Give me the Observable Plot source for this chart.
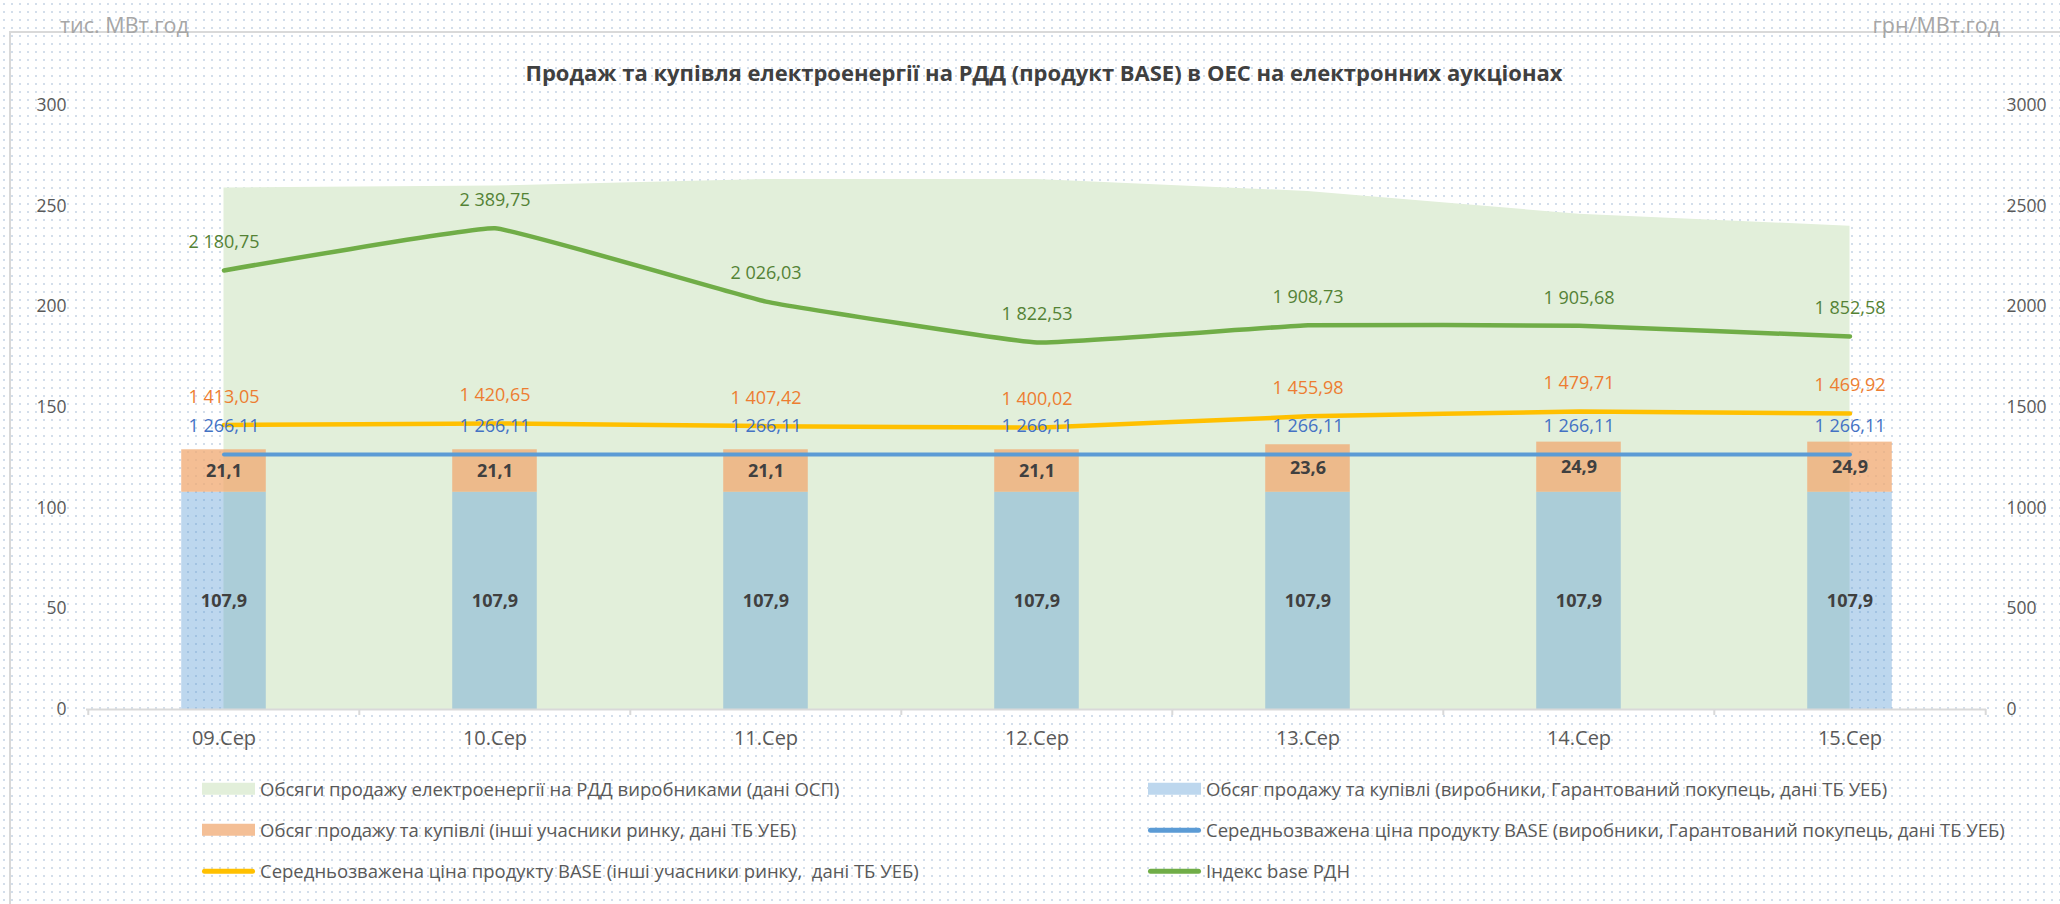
<!DOCTYPE html>
<html lang="uk">
<head>
<meta charset="utf-8">
<title>Продаж та купівля електроенергії на РДД</title>
<script src="https://cdn.jsdelivr.net/npm/d3@7"></script>
<script src="https://cdn.jsdelivr.net/npm/@observablehq/plot@0.6"></script>
<style>
  html, body { margin: 0; padding: 0; }
  body {
    width: 2060px; height: 904px; overflow: hidden;
    background-color: #ffffff;
    background-image: radial-gradient(circle, #d3deeb 1px, rgba(255,255,255,0) 1.5px);
    background-size: 8px 8px;
    font-family: "Open Sans", "Noto Sans", sans-serif;
  }
  #wrap { position: relative; width: 2060px; height: 904px; }
  #frame { position: absolute; left: 9px; top: 31px; width: 2200px; height: 1000px;
           border-left: 2px solid #d9d9d9; border-top: 2px solid #d9d9d9; }
  #chart { position: absolute; left: 0; top: 0; }
  .unit { position: absolute; top: 25px; transform: translateY(-50%); font-size: 21.5px;
          color: #a6a6a6; white-space: nowrap; line-height: 1; }
  #unitL { left: 60px; }
  #unitR { right: 60px; }
  #title { position: absolute; left: 1044px; top: 72px; transform: translate(-50%, -50%);
           font-weight: 700; font-size: 22px; color: #404040; white-space: nowrap; line-height: 1; }
  .lg { position: absolute; display: flex; align-items: center; transform: translateY(-50%);
        font-size: 18.5px; color: #595959; white-space: pre; line-height: 1; }
  .sw { width: 53px; margin-right: 5px; flex: none; }
  .sw.rect { height: 12px; }
  .sw.line { height: 5px; border-radius: 3px; }
</style>
</head>
<body>
<div id="wrap">
  <div id="frame"></div>
  <div class="unit" id="unitL">тис. МВт.год</div>
  <div class="unit" id="unitR">грн/МВт.год</div>
  <div id="title">Продаж та купівля електроенергії на РДД (продукт BASE) в ОЕС на електронних аукціонах</div>
  <div id="chart"></div>
  <div id="legend"></div>
</div>
<script>
// ---------- data ----------
const categories = ["09.Сер", "10.Сер", "11.Сер", "12.Сер", "13.Сер", "14.Сер", "15.Сер"];
const ospVolume = [259, 260, 263.3, 263.3, 257.3, 246, 240];               // тис. МВт.год (area)
const producersVolume = [107.9, 107.9, 107.9, 107.9, 107.9, 107.9, 107.9];  // тис. МВт.год
const othersVolume = [21.1, 21.1, 21.1, 21.1, 23.6, 24.9, 24.9];            // тис. МВт.год
const producersPrice = [1266.11, 1266.11, 1266.11, 1266.11, 1266.11, 1266.11, 1266.11]; // грн/МВт.год
const othersPrice = [1413.05, 1420.65, 1407.42, 1400.02, 1455.98, 1479.71, 1469.92];    // грн/МВт.год
const indexBase = [2180.75, 2389.75, 2026.03, 1822.53, 1908.73, 1905.68, 1852.58];      // грн/МВт.год
const volumeTicks = [0, 50, 100, 150, 200, 250, 300];
const priceTicks = [0, 500, 1000, 1500, 2000, 2500, 3000];
const seriesNames = [
  "Обсяги продажу електроенергії на РДД виробниками (дані ОСП)",
  "Обсяг продажу та купівлі (виробники, Гарантований покупець, дані ТБ УЕБ)",
  "Обсяг продажу та купівлі (інші учасники ринку, дані ТБ УЕБ)",
  "Середньозважена ціна продукту BASE (виробники, Гарантований покупець, дані ТБ УЕБ)",
  "Середньозважена ціна продукту BASE (інші учасники ринку,  дані ТБ УЕБ)",
  "Індекс base РДН"
];

// ---------- styling ----------
const C = {
  area: "#e2efda", blueBar: "#5b9bd5", orangeBar: "#f0a870",
  blueLine: "#5b9bd5", yellowLine: "#ffc000", greenLine: "#70ad47",
  blueText: "#4472c4", orangeText: "#ed7d31", greenText: "#548235",
  axis: "#d9d9d9", tick: "#595959", barText: "#404040"
};
const W = 2060, H = 904, mL = 86, mR = 74, mT = 105, mB = 195;
const priceFactor = priceTicks[priceTicks.length - 1] / volumeTicks[volumeTicks.length - 1];
const bandW = (W - mL - mR) / categories.length;
const barW = 85;
const inset = (bandW - barW) / 2;
const smooth = {curve: "cardinal", tension: 0.75, strokeLinecap: "round", strokeLinejoin: "round"};

const uk = d3.formatLocale({decimal: ",", thousands: "\u00a0", grouping: [3], currency: ["", ""]});
const fmtPrice = uk.format(",.2f");
const fmtVol = uk.format(".1f");

const rows = categories.map((cat, i) => ({
  cat, osp: ospVolume[i], producers: producersVolume[i], others: othersVolume[i],
  pProd: producersPrice[i], pOth: othersPrice[i], idx: indexBase[i]
}));
const lastRow = rows.slice(-1);

const chart = Plot.plot({
  width: W, height: H,
  marginLeft: mL, marginRight: mR, marginTop: mT, marginBottom: mB,
  style: {background: "transparent", fontFamily: "'Open Sans', 'Noto Sans', sans-serif"},
  x: {type: "band", domain: categories, padding: 0, axis: null},
  y: {domain: [volumeTicks[0], volumeTicks[volumeTicks.length - 1]], axis: null},
  marks: [
    Plot.areaY(rows, {x: "cat", y: "osp", fill: C.area}),
    Plot.barY(rows, {x: "cat", y1: 0, y2: "producers", fill: C.blueBar, fillOpacity: 0.4,
                     insetLeft: inset, insetRight: inset}),
    Plot.barY(rows, {x: "cat", y1: "producers", y2: d => d.producers + d.others, fill: C.orangeBar,
                     fillOpacity: 0.75, insetLeft: inset, insetRight: inset}),
    Plot.ruleY([0], {stroke: C.axis, strokeWidth: 2}),
    Plot.ruleX(rows, {x: "cat", y1: 0, y2: -3, dx: -bandW / 2, stroke: C.axis, strokeWidth: 2}),
    Plot.ruleX(lastRow, {x: "cat", y1: 0, y2: -3, dx: bandW / 2, stroke: C.axis, strokeWidth: 2}),
    Plot.axisX({tickSize: 0, tickPadding: 21, fontSize: 20, color: C.tick, label: null}),
    Plot.axisY({anchor: "left", ticks: volumeTicks, tickSize: 0, tickPadding: 20, fontSize: 17.5,
                color: C.tick, label: null}),
    Plot.axisY({anchor: "right", ticks: priceTicks.map(v => v / priceFactor),
                tickFormat: d => String(Math.round(d * priceFactor)),
                tickSize: 0, tickPadding: 20, fontSize: 17.5, color: C.tick, label: null}),
    Plot.lineY(rows, {x: "cat", y: d => d.pProd / priceFactor, stroke: C.blueLine, strokeWidth: 4, ...smooth}),
    Plot.lineY(rows, {x: "cat", y: d => d.pOth / priceFactor, stroke: C.yellowLine, strokeWidth: 4.5, ...smooth}),
    Plot.lineY(rows, {x: "cat", y: d => d.idx / priceFactor, stroke: C.greenLine, strokeWidth: 4.5, ...smooth}),
    Plot.text(rows, {x: "cat", y: d => d.producers / 2, text: d => fmtVol(d.producers),
                     fill: C.barText, fontWeight: "bold", fontSize: 18}),
    Plot.text(rows, {x: "cat", y: d => d.producers + d.others / 2, text: d => fmtVol(d.others),
                     fill: C.barText, fontWeight: "bold", fontSize: 18}),
    Plot.text(rows, {x: "cat", y: d => d.pProd / priceFactor, text: d => fmtPrice(d.pProd),
                     dy: -28, fill: C.blueText, fontSize: 18}),
    Plot.text(rows, {x: "cat", y: d => d.pOth / priceFactor, text: d => fmtPrice(d.pOth),
                     dy: -28, fill: C.orangeText, fontSize: 18}),
    Plot.text(rows, {x: "cat", y: d => d.idx / priceFactor, text: d => fmtPrice(d.idx),
                     dy: -28, fill: C.greenText, fontSize: 18})
  ]
});
document.getElementById("chart").appendChild(chart);

// ---------- legend ----------
const legendSpec = [
  {name: seriesNames[0], kind: "rect", color: C.area, col: 0, row: 0},
  {name: seriesNames[1], kind: "rect", color: "#bdd7ee", col: 1, row: 0},
  {name: seriesNames[2], kind: "rect", color: "#f4bf96", col: 0, row: 1},
  {name: seriesNames[3], kind: "line", color: C.blueLine, col: 1, row: 1},
  {name: seriesNames[4], kind: "line", color: C.yellowLine, col: 0, row: 2},
  {name: seriesNames[5], kind: "line", color: C.greenLine, col: 1, row: 2}
];
const legendCols = [202, 1148];
const legendRows = [789, 830, 871];
const legend = document.getElementById("legend");
for (const s of legendSpec) {
  const item = document.createElement("div");
  item.className = "lg";
  item.style.left = legendCols[s.col] + "px";
  item.style.top = legendRows[s.row] + "px";
  const sw = document.createElement("span");
  sw.className = "sw " + s.kind;
  sw.style.background = s.color;
  const tx = document.createElement("span");
  tx.textContent = s.name;
  item.appendChild(sw);
  item.appendChild(tx);
  legend.appendChild(item);
}
</script>
</body>
</html>
